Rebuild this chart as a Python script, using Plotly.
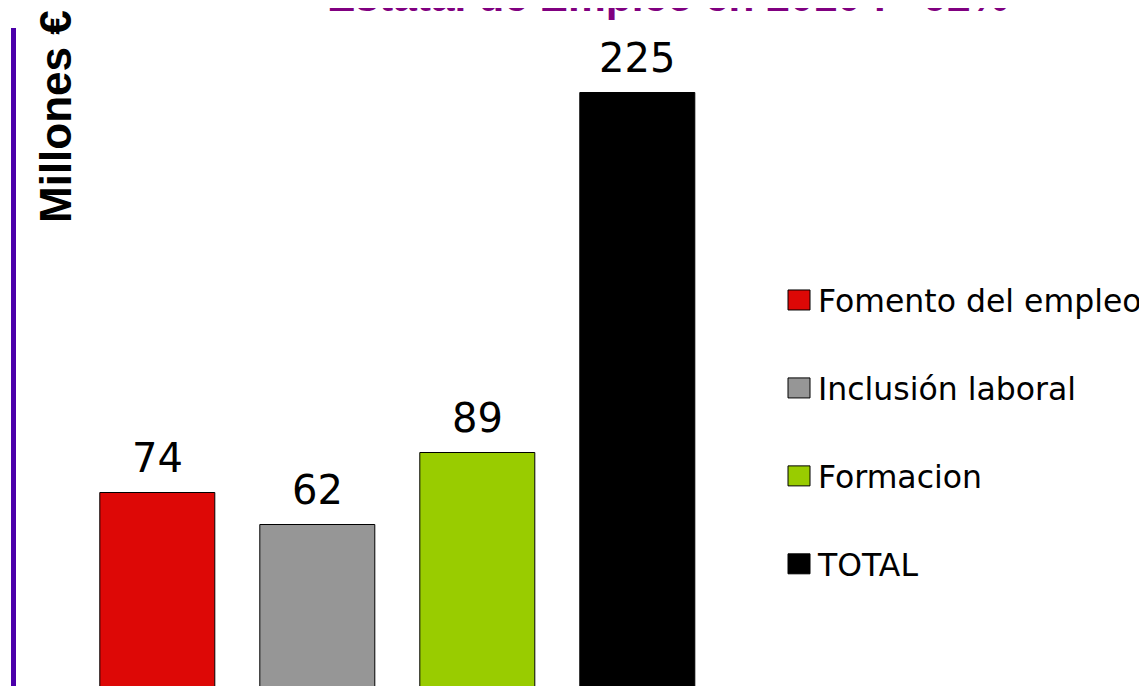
import plotly.graph_objects as go

# ---- data ----
categories = ["Fomento del empleo", "Inclusión laboral", "Formacion", "TOTAL"]
values = [74, 62, 89, 225]
colors = ["#DD0806", "#969696", "#99CC00", "#000000"]
title_text = "Estatal de Empleo en 2010 : +92%"
y_label = "Millones €"

W, H = 1147, 686

fig = go.Figure()
for i, (cat, val, col) in enumerate(zip(categories, values, colors)):
    fig.add_trace(go.Bar(
        x=[i], y=[val], name=cat, width=0.72,
        marker=dict(color=col, line=dict(color="#000000", width=1)),
        legendgroup=cat, hoverinfo="skip",
    ))
    fig.add_annotation(
        x=i, y=val, xref="x", yref="y", text=str(val), showarrow=False,
        yanchor="bottom", yshift=10,
        font=dict(family="DejaVu Sans", size=40, color="#000000"),
    )

# title (partially cut off at the top, as in the reference)
fig.add_annotation(
    x=660 / W, y=1 + 11 / H, xref="paper", yref="paper", text="<b>" + title_text + "</b>",
    showarrow=False, xanchor="center", yanchor="middle",
    font=dict(family="Liberation Sans, Arial", size=42.5, color="#800080"),
)
# rotated y-axis label
fig.add_annotation(
    x=47 / W, y=1 - 109 / H, xref="paper", yref="paper", text="<b>" + y_label + "</b>",
    showarrow=False, xanchor="center", yanchor="middle", textangle=-90,
    font=dict(family="Liberation Sans, Arial", size=44, color="#000000"),
)

fig.update_layout(
    width=W, height=H,
    margin=dict(l=0, r=0, t=0, b=0, pad=0, autoexpand=False),
    paper_bgcolor="#FFFFFF", plot_bgcolor="#FFFFFF",
    bargap=0, showlegend=True,
    xaxis=dict(domain=[8.3 / W, 737 / W], range=[-0.8825, 3.672], showticklabels=False,
               showgrid=False, zeroline=False, showline=False, ticks=""),
    yaxis=dict(domain=[0, 1 - 20 / H], range=[-1.89, 249.5], showticklabels=False,
               showgrid=False, zeroline=False, showline=True, linecolor="#4B00AA",
               linewidth=5, ticks=""),
    legend=dict(
        x=770 / W, y=1 - 265 / H, xanchor="left", yanchor="top",
        font=dict(family="DejaVu Sans", size=31.5, color="#000000"),
        bgcolor="rgba(0,0,0,0)", traceorder="grouped", tracegroupgap=44,
    ),
)

# enlarge the legend swatches to match the reference squares
post_js = """
function bigSwatches(){
  document.querySelectorAll('.legend [clip-path]').forEach(function(el){
    el.removeAttribute('clip-path');
  });
  document.querySelectorAll('.legendpoints path').forEach(function(p){
    p.removeAttribute('transform');
    p.setAttribute('d', 'M32,10H10V-10H32Z');
    p.style.strokeWidth = '1px';
  });
}
bigSwatches();
setTimeout(bigSwatches, 50);
"""

fig.write_html("out.html", post_script=post_js)
